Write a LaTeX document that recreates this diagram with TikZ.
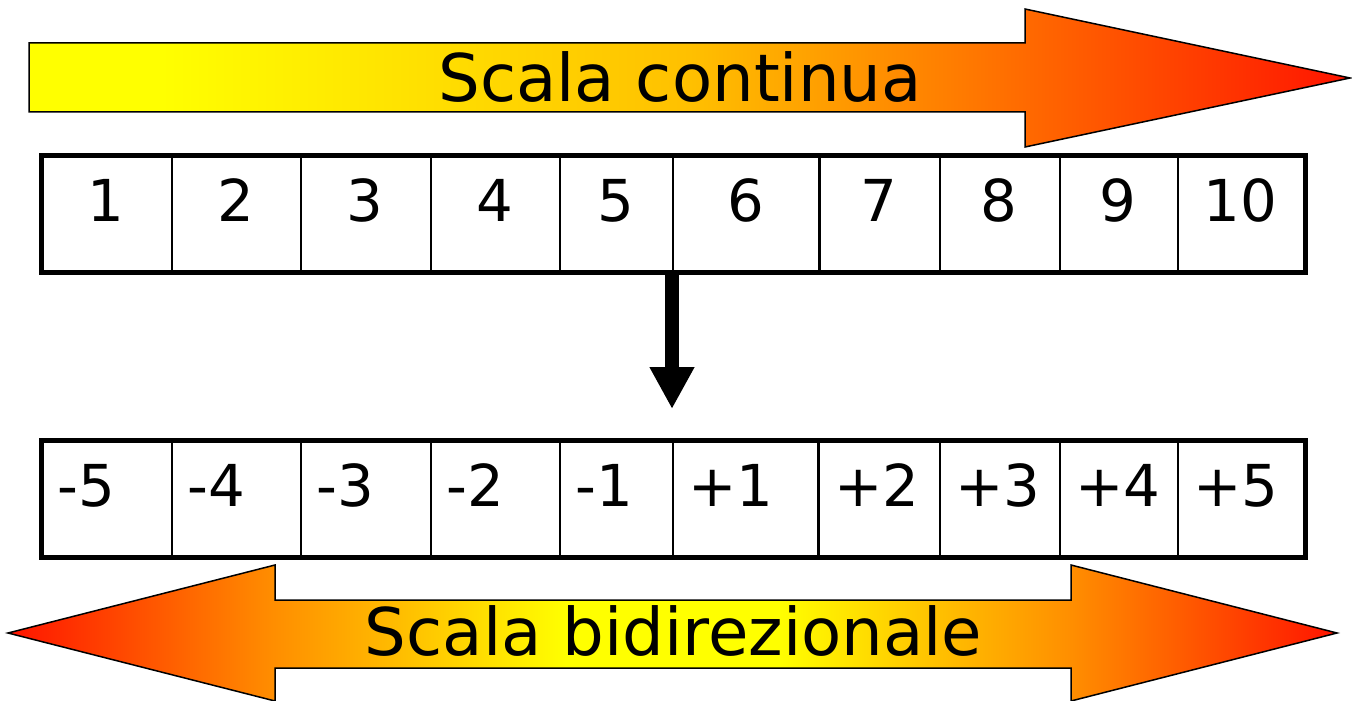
\documentclass[tikz,border=0pt]{standalone}
\usepackage{fontspec}
\setmainfont{DejaVu Sans}
\usetikzlibrary{arrows.meta}
\definecolor{gy}{RGB}{255,255,0}
\definecolor{gyb}{RGB}{255,192,0}
\definecolor{go}{RGB}{255,128,0}
\definecolor{goa}{RGB}{255,142,0}
\definecolor{gr}{RGB}{255,20,0}
\pgfdeclarehorizontalshading{topgrad}{100bp}{color(0bp)=(gy); color(25bp)=(gy); color(30bp)=(gy); color(50bp)=(gyb); color(59.5bp)=(go); color(75bp)=(gr); color(100bp)=(gr)}
\pgfdeclarehorizontalshading{botgrad}{100bp}{color(0bp)=(gr); color(25bp)=(gr); color(35bp)=(goa); color(40bp)=(gyb); color(46bp)=(gy); color(54bp)=(gy); color(60bp)=(gyb); color(65bp)=(goa); color(75bp)=(gr); color(100bp)=(gr)}
\tikzset{
  bigarrow/.style={line width=1.5bp, draw=black},
  cellbox/.style={draw=black, line width=2bp, inner sep=0pt, minimum height=115bp},
  frame/.style={draw=black, line width=5bp},
  num/.style={font=\fontsize{58}{60}\selectfont, inner sep=0pt},
  title/.style={font=\fontsize{66}{70}\selectfont, inner sep=0pt, anchor=base},
  downarrow/.style={line width=14bp, -{Triangle[width=42bp,length=42bp]}}
}
\begin{document}
\begin{tikzpicture}[x=1bp,y=-1bp]
\useasboundingbox (0,0) rectangle (1352,700);
% top arrow
\shadedraw[shading=topgrad, bigarrow] (29,43) -- (1025,43) -- (1025,9) -- (1350,78) -- (1025,147) -- (1025,112) -- (29,112) -- cycle;
\node[title] (ttl) at (680,102) {Scala continua};
% bottom double arrow
\shadedraw[shading=botgrad, bigarrow] (8,633) -- (275,565) -- (275,600) -- (1071,600) -- (1071,565) -- (1337,633) -- (1071,701) -- (1071,668) -- (275,668) -- (275,701) -- cycle;
\node[title] (btl) at (673.5,655) {Scala bidirezionale};
% top table
\foreach \i/\a/\b/\t in {1/41/171/1, 2/171/300/2, 3/300/430/3, 4/430/559/4, 5/559/672/5, 6/672/819/6, 7/819/939/7, 8/939/1059/8, 9/1059/1177/9, 10/1177/1303.5/10}{
  \node[cellbox, minimum width={\b-\a}, anchor=north west] (t\i) at (\a,155) {};
  \node[num, anchor=base] (tn\i) at ({(\a+\b)/2},221) {\t};
}
\draw[frame] (t1.north west) rectangle (t10.south east);
% bottom table
\foreach \i/\a/\b/\t in {1/41/171/-5, 2/171/300/-4, 3/300/430/-3, 4/430/559/-2, 5/559/672/-1, 6/672/818/+1, 7/818/939/+2, 8/939/1059/+3, 9/1059/1177/+4, 10/1177/1303.5/+5}{
  \node[cellbox, minimum width={\b-\a}, anchor=north west] (b\i) at (\a,440.5) {};
  \node[num, anchor=base west] (bn\i) at (\a+16,506) {\t};
}
\draw[frame] (b1.north west) rectangle (b10.south east);
% down arrow
\coordinate (dtip) at (672,409);
\draw[downarrow] (t6.south west) -- (dtip);
\end{tikzpicture}
\end{document}
